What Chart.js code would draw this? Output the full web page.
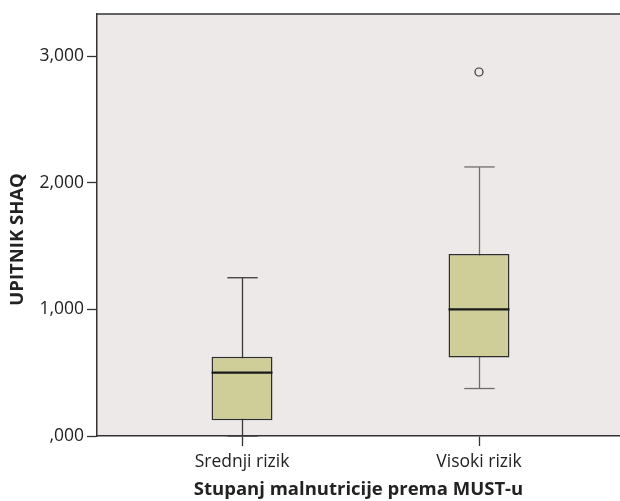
<!DOCTYPE html>
<html>
<head>
<meta charset="utf-8">
<script src="https://cdn.jsdelivr.net/npm/chart.js@4/dist/chart.umd.min.js"></script>
<style>
  html, body { margin: 0; padding: 0; background: #fff; overflow: hidden; }
  #wrap { width: 620px; height: 501px; }
  canvas { display: block; }
</style>
</head>
<body>
<div id="wrap"><canvas id="boxChart"></canvas></div>
<script>
// data
var categories  = ['Srednji rizik', 'Visoki rizik'];
var whiskerLow  = [0.000, 0.375];
var q1          = [0.125, 0.620];
var median      = [0.500, 1.000];
var q3          = [0.625, 1.438];
var whiskerHigh = [1.250, 2.125];
var outliers    = [[], [2.875]];
var yTicks      = [0, 1, 2, 3];
var yTickLabels = [',000', '1,000', '2,000', '3,000'];

var FONT = "'Open Sans', 'DejaVu Sans', sans-serif";
var whiskerColors = ['#3a3a3a', '#6e6e6e'];

var boxPlugin = {
    id: 'boxWhiskers',
    beforeDraw: function(chart) {
        var a = chart.chartArea, ctx = chart.ctx;
        ctx.save();
        ctx.fillStyle = '#ede9e8';
        ctx.fillRect(a.left, a.top, a.right - a.left, a.bottom - a.top);
        ctx.restore();
    },
    beforeDatasetsDraw: function(chart) {
        var ctx = chart.ctx, x = chart.scales.x, y = chart.scales.y;
        var bars = chart.getDatasetMeta(0).data;
        ctx.save();
        ctx.lineWidth = 1.3;
        categories.forEach(function(c, i) {
            var px = Math.round(x.getPixelForValue(i + 1)) + 0.5;
            var half = bars[i].width / 4;
            ctx.strokeStyle = whiskerColors[i];
            ctx.beginPath();
            ctx.moveTo(px, y.getPixelForValue(whiskerLow[i]));
            ctx.lineTo(px, y.getPixelForValue(whiskerHigh[i]));
            ctx.stroke();
            [whiskerLow[i], whiskerHigh[i]].forEach(function(v) {
                var py = y.getPixelForValue(v);
                ctx.beginPath();
                ctx.moveTo(px - half, py);
                ctx.lineTo(px + half, py);
                ctx.stroke();
            });
        });
        ctx.restore();
    },
    afterDatasetsDraw: function(chart) {
        var ctx = chart.ctx, y = chart.scales.y;
        var bars = chart.getDatasetMeta(0).data;
        ctx.save();
        ctx.strokeStyle = '#1a1a1a';
        ctx.lineWidth = 2.2;
        categories.forEach(function(c, i) {
            var py = y.getPixelForValue(median[i]);
            ctx.beginPath();
            ctx.moveTo(bars[i].x - bars[i].width / 2, py);
            ctx.lineTo(bars[i].x + bars[i].width / 2, py);
            ctx.stroke();
        });
        ctx.restore();
    },
    afterDraw: function(chart) {
        var a = chart.chartArea, ctx = chart.ctx;
        ctx.save();
        ctx.strokeStyle = '#333';
        ctx.lineWidth = 1.5;
        ctx.beginPath();
        ctx.moveTo(a.left, a.top);
        ctx.lineTo(a.right, a.top);
        ctx.stroke();
        ctx.restore();
    }
};

var outlierPoints = [];
outliers.forEach(function(list, i) {
    list.forEach(function(v) { outlierPoints.push({ x: i + 1, y: v }); });
});

var ctx = document.getElementById('boxChart');
var boxChart = new Chart(ctx, {
    type: 'bar',
    data: {
        datasets: [{
            label: 'box',
            data: categories.map(function(c, i) { return { x: i + 1, y: [q1[i], q3[i]] }; }),
            backgroundColor: '#cfcd98',
            borderColor: '#2e2e2e',
            borderWidth: 1.5,
            borderSkipped: false,
            barPercentage: 1,
            categoryPercentage: 0.257
        }, {
            type: 'scatter',
            label: 'outliers',
            data: outlierPoints,
            pointRadius: 4,
            pointBorderWidth: 1.2,
            pointBorderColor: '#333',
            pointBackgroundColor: 'rgba(0,0,0,0)'
        }]
    },
    plugins: [boxPlugin],
    options: {
        responsive: true,
        maintainAspectRatio: false,
        animation: false,
        layout: { autoPadding: false, padding: { top: 14, left: 0, right: 0, bottom: 0 } },
        plugins: { legend: { display: false }, tooltip: { enabled: false } },
        scales: {
            x: {
                type: 'linear',
                min: 0.388,
                max: 2.595,
                offset: false,
                afterBuildTicks: function(s) {
                    s.ticks = categories.map(function(c, i) { return { value: i + 1 }; });
                },
                afterFit: function(s) {
                    s.height = 65;
                    s.paddingLeft = 0;
                    s.paddingRight = 0;
                },
                ticks: {
                    autoSkip: false,
                    maxRotation: 0,
                    padding: 6,
                    color: '#222',
                    font: { family: FONT, size: 17.5 },
                    callback: function(v) { return categories[v - 1]; }
                },
                grid: { offset: false, drawOnChartArea: false, drawTicks: true, tickLength: 10, tickColor: '#333', tickWidth: 1.3 },
                border: { display: true, color: '#333', width: 1.5 },
                title: {
                    display: true,
                    text: 'Stupanj malnutricije prema MUST-u',
                    color: '#222',
                    font: { family: FONT, size: 18.5, weight: 'bold' },
                    padding: { top: 0, bottom: 0 }
                }
            },
            y: {
                min: 0,
                max: 3.333,
                afterBuildTicks: function(s) {
                    s.ticks = yTicks.map(function(v) { return { value: v }; });
                },
                afterFit: function(s) { s.width = 97; },
                ticks: {
                    padding: 3,
                    color: '#222',
                    font: { family: FONT, size: 17.5 },
                    callback: function(v) { return yTickLabels[yTicks.indexOf(v)]; }
                },
                grid: { drawOnChartArea: false, drawTicks: true, tickLength: 10, tickColor: '#333', tickWidth: 1.3 },
                border: { display: true, color: '#333', width: 1.5 },
                title: {
                    display: true,
                    text: 'UPITNIK SHAQ      ',
                    color: '#222',
                    font: { family: FONT, size: 18.5, weight: 'bold' },
                    padding: 7
                }
            }
        }
    }
});
</script>
</body>
</html>
